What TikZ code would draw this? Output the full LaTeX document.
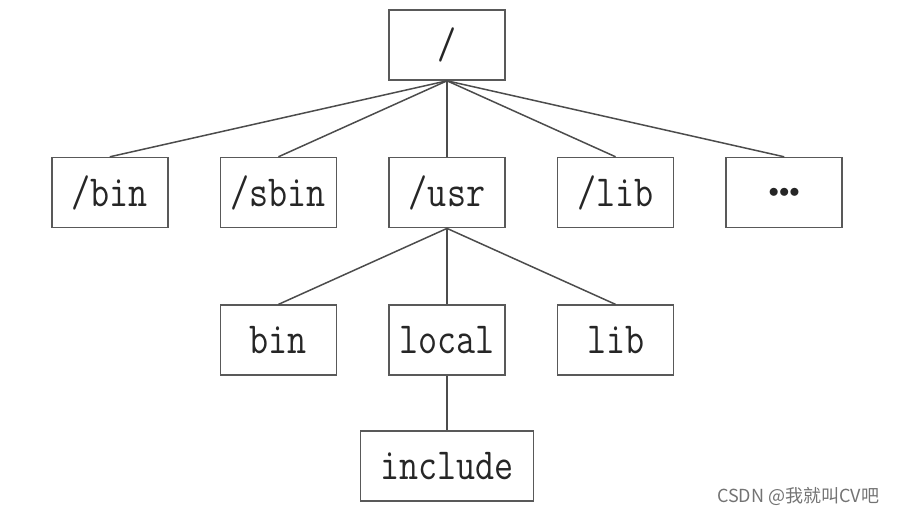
\documentclass[tikz,border=0pt]{standalone}
\usepackage{fontspec}
\newfontfamily\cjkfont{Noto Sans CJK SC}
\usetikzlibrary{positioning}
\newcommand\dirname[1]{\scalebox{1}[1.2]{#1}}
\tikzset{
  dir/.style  = {draw=black!65, line width=1.6pt, minimum width=116pt,
                 minimum height=70pt, inner sep=0pt, text=black!85,
                 font=\fontsize{37}{37}\selectfont\ttfamily},
  wide/.style = {minimum width=173pt},
  link/.style = {draw=black!70, line width=1.5pt},
}

\begin{document}
\begin{tikzpicture}[x=1pt,y=-1pt,node distance=76pt and 51pt]
  \useasboundingbox (0,0) rectangle (901,515);
  \node[dir] (root) at (447,45) {\dirname{/}};
  \node[dir, below=of root] (usr) {\dirname{/usr}};
  \node[dir, left=of usr] (sbin) {\dirname{/sbin}};
  \node[dir, left=of sbin] (bin) {\dirname{/bin}};
  \node[dir, right=of usr] (lib) {\dirname{/lib}};
  \node[dir, right=of lib] (more) {\fontsize{20}{20}\selectfont${\bullet}{\bullet}{\bullet}$};
  \node[dir, below=of usr] (ulocal) {\dirname{local}};
  \node[dir, left=of ulocal] (ubin) {\dirname{bin}};
  \node[dir, right=of ulocal] (ulib) {\dirname{lib}};
  \node[dir, wide, below=54pt of ulocal] (uinclude) {\dirname{include}};
  \foreach \n in {bin,sbin,usr,lib,more} \draw[link] (root.south) -- (\n.north);
  \foreach \n in {ubin,ulocal,ulib} \draw[link] (usr.south) -- (\n.north);
  \draw[link] (ulocal) -- (uinclude);
  \node[font=\cjkfont\fontsize{18}{18}\selectfont, text=black!55] (mark) at (798,496) {CSDN @我就叫CV吧};
\end{tikzpicture}
\end{document}
